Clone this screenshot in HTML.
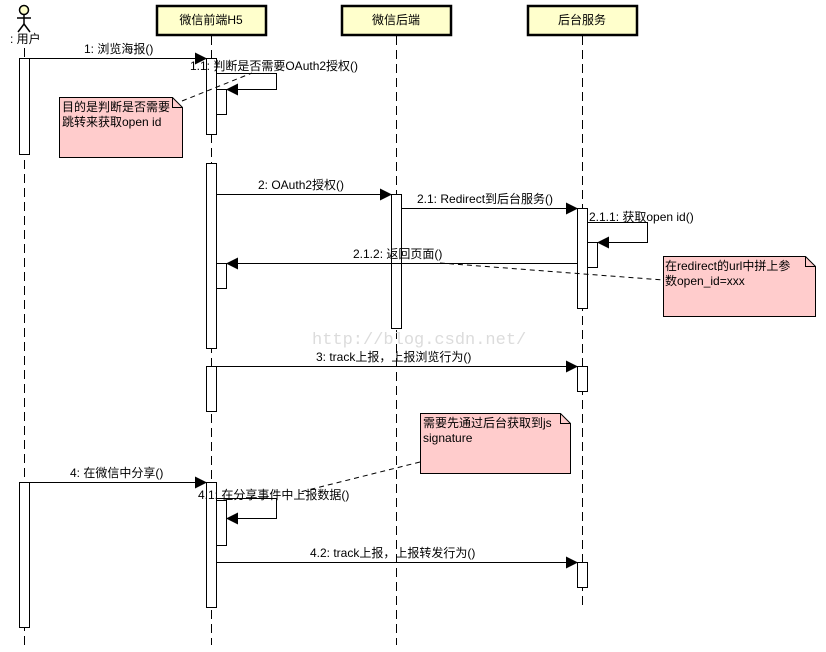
<!DOCTYPE html>
<html><head><meta charset="utf-8"><style>
html,body{margin:0;padding:0;background:#fff;}
svg{display:block;}
text{font-family:"Liberation Sans","Noto Sans CJK SC",sans-serif;font-size:12px;fill:#000;}
</style></head><body>
<svg width="826" height="652" viewBox="0 0 826 652" xmlns="http://www.w3.org/2000/svg">
<defs>
<marker id="a" markerWidth="12" markerHeight="12" refX="11" refY="6" orient="auto" markerUnits="userSpaceOnUse">
<path d="M0,0 L12,6 L0,12 Z" fill="#000"/></marker>
</defs>
<g stroke="#000" stroke-width="1" stroke-dasharray="9,5" fill="none">
<line x1="24.5" y1="48" x2="24.5" y2="645"/>
<line x1="211.5" y1="36" x2="211.5" y2="645"/>
<line x1="396.5" y1="36" x2="396.5" y2="645"/>
<line x1="582.5" y1="36" x2="582.5" y2="605"/>
</g>
<g stroke="#000" stroke-width="1.5" fill="none">
<circle cx="24" cy="10" r="4.5" fill="#ffffcc"/>
<line x1="24" y1="15" x2="24" y2="24"/>
<line x1="17" y1="18" x2="31" y2="18"/>
<line x1="24" y1="24" x2="18" y2="32"/>
<line x1="24" y1="24" x2="30" y2="32"/>
</g>
<text x="10" y="43">: 用户</text>
<g stroke="#000" stroke-width="2.5" fill="#ffffcc">
<rect x="157" y="6" width="109" height="29"/>
<rect x="342" y="6" width="109" height="29"/>
<rect x="528" y="6" width="109" height="29"/>
</g>
<text x="211" y="24" text-anchor="middle">微信前端H5</text>
<text x="396" y="24" text-anchor="middle">微信后端</text>
<text x="582" y="24" text-anchor="middle">后台服务</text>
<g stroke="#000" stroke-width="1" fill="#fff">
<rect x="19.5" y="58.5" width="10" height="96"/>
<rect x="19.5" y="482.5" width="10" height="145"/>
<rect x="206.5" y="58.5" width="10" height="76"/>
<rect x="216.5" y="89.5" width="10" height="25"/>
<rect x="206.5" y="163.5" width="10" height="185"/>
<rect x="216.5" y="263.5" width="10" height="25"/>
<rect x="206.5" y="366.5" width="10" height="45"/>
<rect x="206.5" y="482.5" width="10" height="125"/>
<rect x="216.5" y="500.5" width="10" height="45"/>
<rect x="391.5" y="194.5" width="10" height="134"/>
<rect x="577.5" y="208.5" width="10" height="100"/>
<rect x="587.5" y="242.5" width="10" height="25"/>
<rect x="577.5" y="366.5" width="10" height="25"/>
<rect x="577.5" y="562.5" width="10" height="25"/>
</g>
<text x="312" y="344" style="font-family:'Liberation Mono',monospace;font-size:17px;fill:#dcdcdc">http://blog.csdn.net/</text>
<g stroke="#000" stroke-width="1" fill="none" marker-end="url(#a)">
<line x1="29" y1="58.5" x2="206" y2="58.5"/>
<polyline points="216,73.5 276.5,73.5 276.5,89.5 227,89.5"/>
<line x1="216" y1="194.5" x2="391" y2="194.5"/>
<line x1="401" y1="208.5" x2="577" y2="208.5"/>
<polyline points="587,222.5 647.5,222.5 647.5,242.5 598,242.5"/>
<line x1="577" y1="263.5" x2="227" y2="263.5"/>
<line x1="216" y1="366.5" x2="577" y2="366.5"/>
<line x1="29" y1="482.5" x2="206" y2="482.5"/>
<polyline points="216,498.5 276.5,498.5 276.5,518.5 227,518.5"/>
<line x1="216" y1="562.5" x2="577" y2="562.5"/>
</g>
<text x="84" y="53">1: 浏览海报()</text>
<text x="190" y="70">1.1: 判断是否需要OAuth2授权()</text>
<text x="258" y="189">2: OAuth2授权()</text>
<text x="417" y="203">2.1: Redirect到后台服务()</text>
<text x="589" y="221">2.1.1: 获取open id()</text>
<text x="353" y="258">2.1.2: 返回页面()</text>
<text x="316" y="361">3: track上报，上报浏览行为()</text>
<text x="70" y="477">4: 在微信中分享()</text>
<text x="198" y="499">4.1: 在分享事件中上报数据()</text>
<text x="310" y="557">4.2: track上报，上报转发行为()</text>
<g stroke="#000" stroke-width="1" stroke-dasharray="5,4" fill="none">
<line x1="182" y1="101" x2="252" y2="73"/>
<line x1="440" y1="263" x2="663" y2="280"/>
<line x1="420" y1="462" x2="300" y2="492"/>
</g>
<g stroke="#000" stroke-width="1" fill="#ffcccc">
<path d="M59.5,97.5 H172.5 L182.5,107.5 V157.5 H59.5 Z"/>
<path d="M663.5,256.5 H805.5 L815.5,266.5 V316.5 H663.5 Z"/>
<path d="M420.5,413.5 H560.5 L570.5,423.5 V473.5 H420.5 Z"/>
</g>
<g stroke="#000" stroke-width="1" fill="none">
<polyline points="172.5,97.5 172.5,107.5 182.5,107.5"/>
<polyline points="805.5,256.5 805.5,266.5 815.5,266.5"/>
<polyline points="560.5,413.5 560.5,423.5 570.5,423.5"/>
</g>
<text x="62" y="111">目的是判断是否需要</text>
<text x="62" y="126">跳转来获取open id</text>
<text x="665" y="270">在redirect的url中拼上参</text>
<text x="665" y="285">数open_id=xxx</text>
<text x="423" y="427">需要先通过后台获取到js</text>
<text x="423" y="442">signature</text>
</svg>
</body></html>
